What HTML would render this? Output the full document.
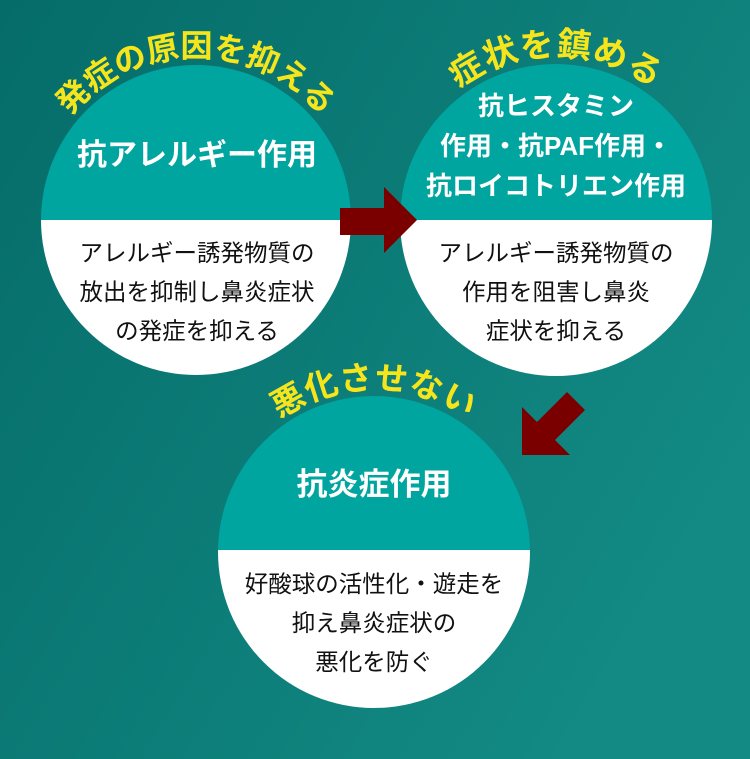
<!DOCTYPE html>
<html><head><meta charset="utf-8"><style>
html,body{margin:0;padding:0;}
body{width:750px;height:759px;overflow:hidden;}
svg{display:block;}
text{font-family:"Liberation Sans","Noto Sans CJK JP",sans-serif;}
</style></head><body>
<svg width="750" height="759" viewBox="0 0 750 759" xmlns="http://www.w3.org/2000/svg">
<defs>
<linearGradient id="bg" x1="0" y1="0" x2="1" y2="0.6">
<stop offset="0" stop-color="#056c69"/>
<stop offset="1" stop-color="#138a84"/>
</linearGradient>
<clipPath id="c1"><circle cx="196" cy="220" r="155"/></clipPath>
<clipPath id="c2"><circle cx="556" cy="220" r="156"/></clipPath>
<clipPath id="c3"><circle cx="374" cy="552" r="156"/></clipPath>
<path id="a1" d="M 196 220 m -163 0 a 163 163 0 0 1 326 0"/>
<path id="a2" d="M 556 220 m -164 0 a 164 164 0 0 1 328 0"/>
<path id="a3" d="M 374 552 m -163 0 a 163 163 0 0 1 326 0"/>
</defs>
<rect width="750" height="759" fill="url(#bg)"/>

<g clip-path="url(#c1)">
<rect x="0" y="0" width="400" height="220" fill="#00a5a0"/>
<rect x="0" y="220" width="400" height="200" fill="#fff"/>
</g>
<g clip-path="url(#c2)">
<rect x="380" y="0" width="370" height="220" fill="#00a5a0"/>
<rect x="380" y="220" width="370" height="200" fill="#fff"/>
</g>
<g clip-path="url(#c3)">
<rect x="200" y="380" width="360" height="170" fill="#00a5a0"/>
<rect x="200" y="550" width="360" height="200" fill="#fff"/>
</g>

<polygon points="340,208 384,208 384,187 417,220 384,253 384,235 340,235" fill="#7a0000"/>
<polygon points="522,455 522,407 537,422 567,392 585,410 555,440 570,455" fill="#7a0000"/>

<g fill="#f7e51c" font-weight="bold" text-anchor="middle">
<text font-size="32"><textPath href="#a1" startOffset="50%">発症の原因を抑える</textPath></text>
<text font-size="34" letter-spacing="1"><textPath href="#a2" startOffset="50%">症状を鎮める</textPath></text>
<text font-size="33" letter-spacing="0.5"><textPath href="#a3" startOffset="50%">悪化させない</textPath></text>
</g>

<g fill="#fff" font-weight="bold" text-anchor="middle">
<text x="197" y="165" font-size="30">抗アレルギー作用</text>
<text x="556" y="115" font-size="26">抗ヒスタミン</text>
<text x="556" y="155" font-size="26">作用・抗PAF作用・</text>
<text x="556" y="195" font-size="26">抗ロイコトリエン作用</text>
<text x="374" y="495" font-size="31">抗炎症作用</text>
</g>

<g fill="#111" text-anchor="middle" font-size="23.5">
<text x="197" y="261">アレルギー誘発物質の</text>
<text x="197" y="300">放出を抑制し鼻炎症状</text>
<text x="197" y="339">の発症を抑える</text>
<text x="556" y="261">アレルギー誘発物質の</text>
<text x="556" y="300">作用を阻害し鼻炎</text>
<text x="556" y="339">症状を抑える</text>
<text x="374" y="592">好酸球の活性化・遊走を</text>
<text x="374" y="631">抑え鼻炎症状の</text>
<text x="374" y="670">悪化を防ぐ</text>
</g>
</svg>
</body></html>
